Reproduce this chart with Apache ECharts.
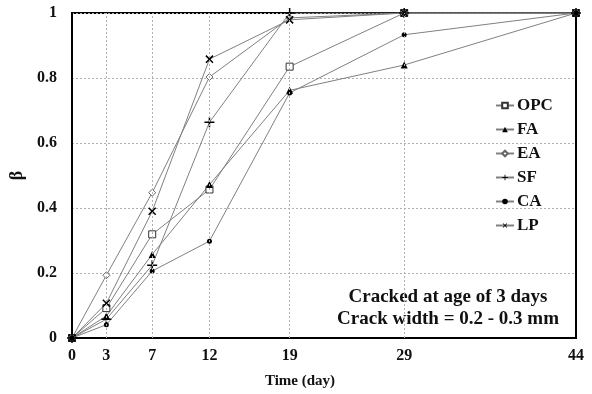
<!DOCTYPE html>
<html><head><meta charset="utf-8">
<script src="https://cdn.jsdelivr.net/npm/echarts@6/dist/echarts.min.js"></script>
<style>html,body{margin:0;padding:0;background:#fff}#c{width:592px;height:394px}</style>
</head><body><div id="c"></div>
<script>
const xTicks = [0, 3, 7, 12, 19, 29, 44];
const seriesNames = ['OPC', 'FA', 'EA', 'SF', 'CA', 'LP'];
const OPC = [0, 0.092, 0.319, 0.457, 0.835, 1, 1];
const FA  = [0, 0.068, 0.257, 0.472, 0.762, 0.840, 1];
const EA  = [0, 0.193, 0.447, 0.803, 0.985, 1, 1];
const SF  = [0, 0.058, 0.224, 0.664, 1, 1, 1];
const CA  = [0, 0.041, 0.206, 0.298, 0.754, 0.933, 1];
const LP  = [0, 0.107, 0.390, 0.858, 0.979, 1, 1];
const yTicks = [0, 0.2, 0.4, 0.6, 0.8, 1];

const valuesByName = {OPC, FA, EA, SF, CA, LP};
const PLUS = 'path://M3.4,0H4.6V3.4H8V4.6H4.6V8H3.4V4.6H0V3.4H3.4Z';
const markers = {
  OPC: {symbol: 'rect', size: 7, color: '#fff', border: '#333', bw: 1},
  FA:  {symbol: 'triangle', size: 7, color: '#000', border: '#000', bw: 0},
  EA:  {symbol: 'diamond', size: 7, color: '#fff', border: '#666', bw: 1},
  SF:  {symbol: PLUS, size: 10, color: '#000', border: '#000', bw: 0},
  CA:  {symbol: 'circle', size: 5, color: '#000', border: '#000', bw: 0},
  LP:  {symbol: PLUS, size: 10, color: '#000', border: '#000', bw: 0, rotate: 45}
};
const font = 'Liberation Serif';
const chart = echarts.init(document.getElementById('c'), null, {renderer: 'canvas'});
const series = seriesNames.map(n => ({
  name: n,
  type: 'line',
  data: xTicks.map((x, i) => [x, valuesByName[n][i]]),
  symbol: markers[n].symbol,
  symbolSize: markers[n].size,
  symbolRotate: markers[n].rotate || 0,
  showAllSymbol: true,
  lineStyle: {color: '#808080', width: 1},
  itemStyle: {color: markers[n].color, borderColor: markers[n].border, borderWidth: markers[n].bw},
  emphasis: {disabled: true},
  animation: false
}));
series.push({
  type: 'line', data: [], silent: true,
  markLine: {
    silent: true, symbol: 'none', label: {show: false},
    lineStyle: {color: '#b0b0b0', type: [2, 2], width: 1},
    data: xTicks.slice(1, -1).map(v => ({xAxis: v}))
  }
});
chart.setOption({
  animation: false,
  grid: {left: 72, top: 13, right: 16, bottom: 55, show: true, borderColor: '#000', borderWidth: 2},
  xAxis: {
    type: 'value', min: 0, max: 44,
    axisLine: {lineStyle: {color: '#000', width: 2}},
    axisTick: {show: false, customValues: xTicks},
    axisLabel: {customValues: xTicks, margin: 10, color: '#111', fontFamily: font, fontWeight: 'bold', fontSize: 16},
    splitLine: {show: false},
    name: 'Time (day)', nameLocation: 'middle', nameGap: 36,
    nameTextStyle: {color: '#111', fontFamily: font, fontWeight: 'bold', fontSize: 15, padding: [0, 48, 0, 0]}
  },
  yAxis: {
    type: 'value', min: 0, max: 1, interval: 0.2,
    axisLine: {show: true, lineStyle: {color: '#000', width: 2}},
    axisTick: {show: false},
    axisLabel: {margin: 15, color: '#111', fontFamily: font, fontWeight: 'bold', fontSize: 16,
      formatter: v => String(yTicks.find(t => Math.abs(t - v) < 1e-9) ?? v)},
    splitLine: {show: true, lineStyle: {color: '#b0b0b0', type: [2, 2], width: 1}},
    name: 'β', nameLocation: 'middle', nameGap: 45, nameRotate: 90,
    nameTextStyle: {color: '#111', fontFamily: font, fontWeight: 'bold', fontSize: 18}
  },
  legend: {
    orient: 'vertical', left: 490, top: 92, itemWidth: 18, itemHeight: 7, itemGap: 7,
    data: seriesNames,
    textStyle: {color: '#111', fontFamily: font, fontWeight: 'bold', fontSize: 17, lineHeight: 17, padding: [0, 0, 0, -2]}
  },
  graphic: [
    {type: 'text', style: {text: 'Cracked at age of 3 days', x: 448, y: 297, align: 'center', verticalAlign: 'middle', font: 'bold 19px "Liberation Serif"', fill: '#111'}},
    {type: 'text', style: {text: 'Crack width = 0.2 - 0.3 mm', x: 448, y: 319, align: 'center', verticalAlign: 'middle', font: 'bold 19px "Liberation Serif"', fill: '#111'}}
  ],
  series: series
});
</script></body></html>
